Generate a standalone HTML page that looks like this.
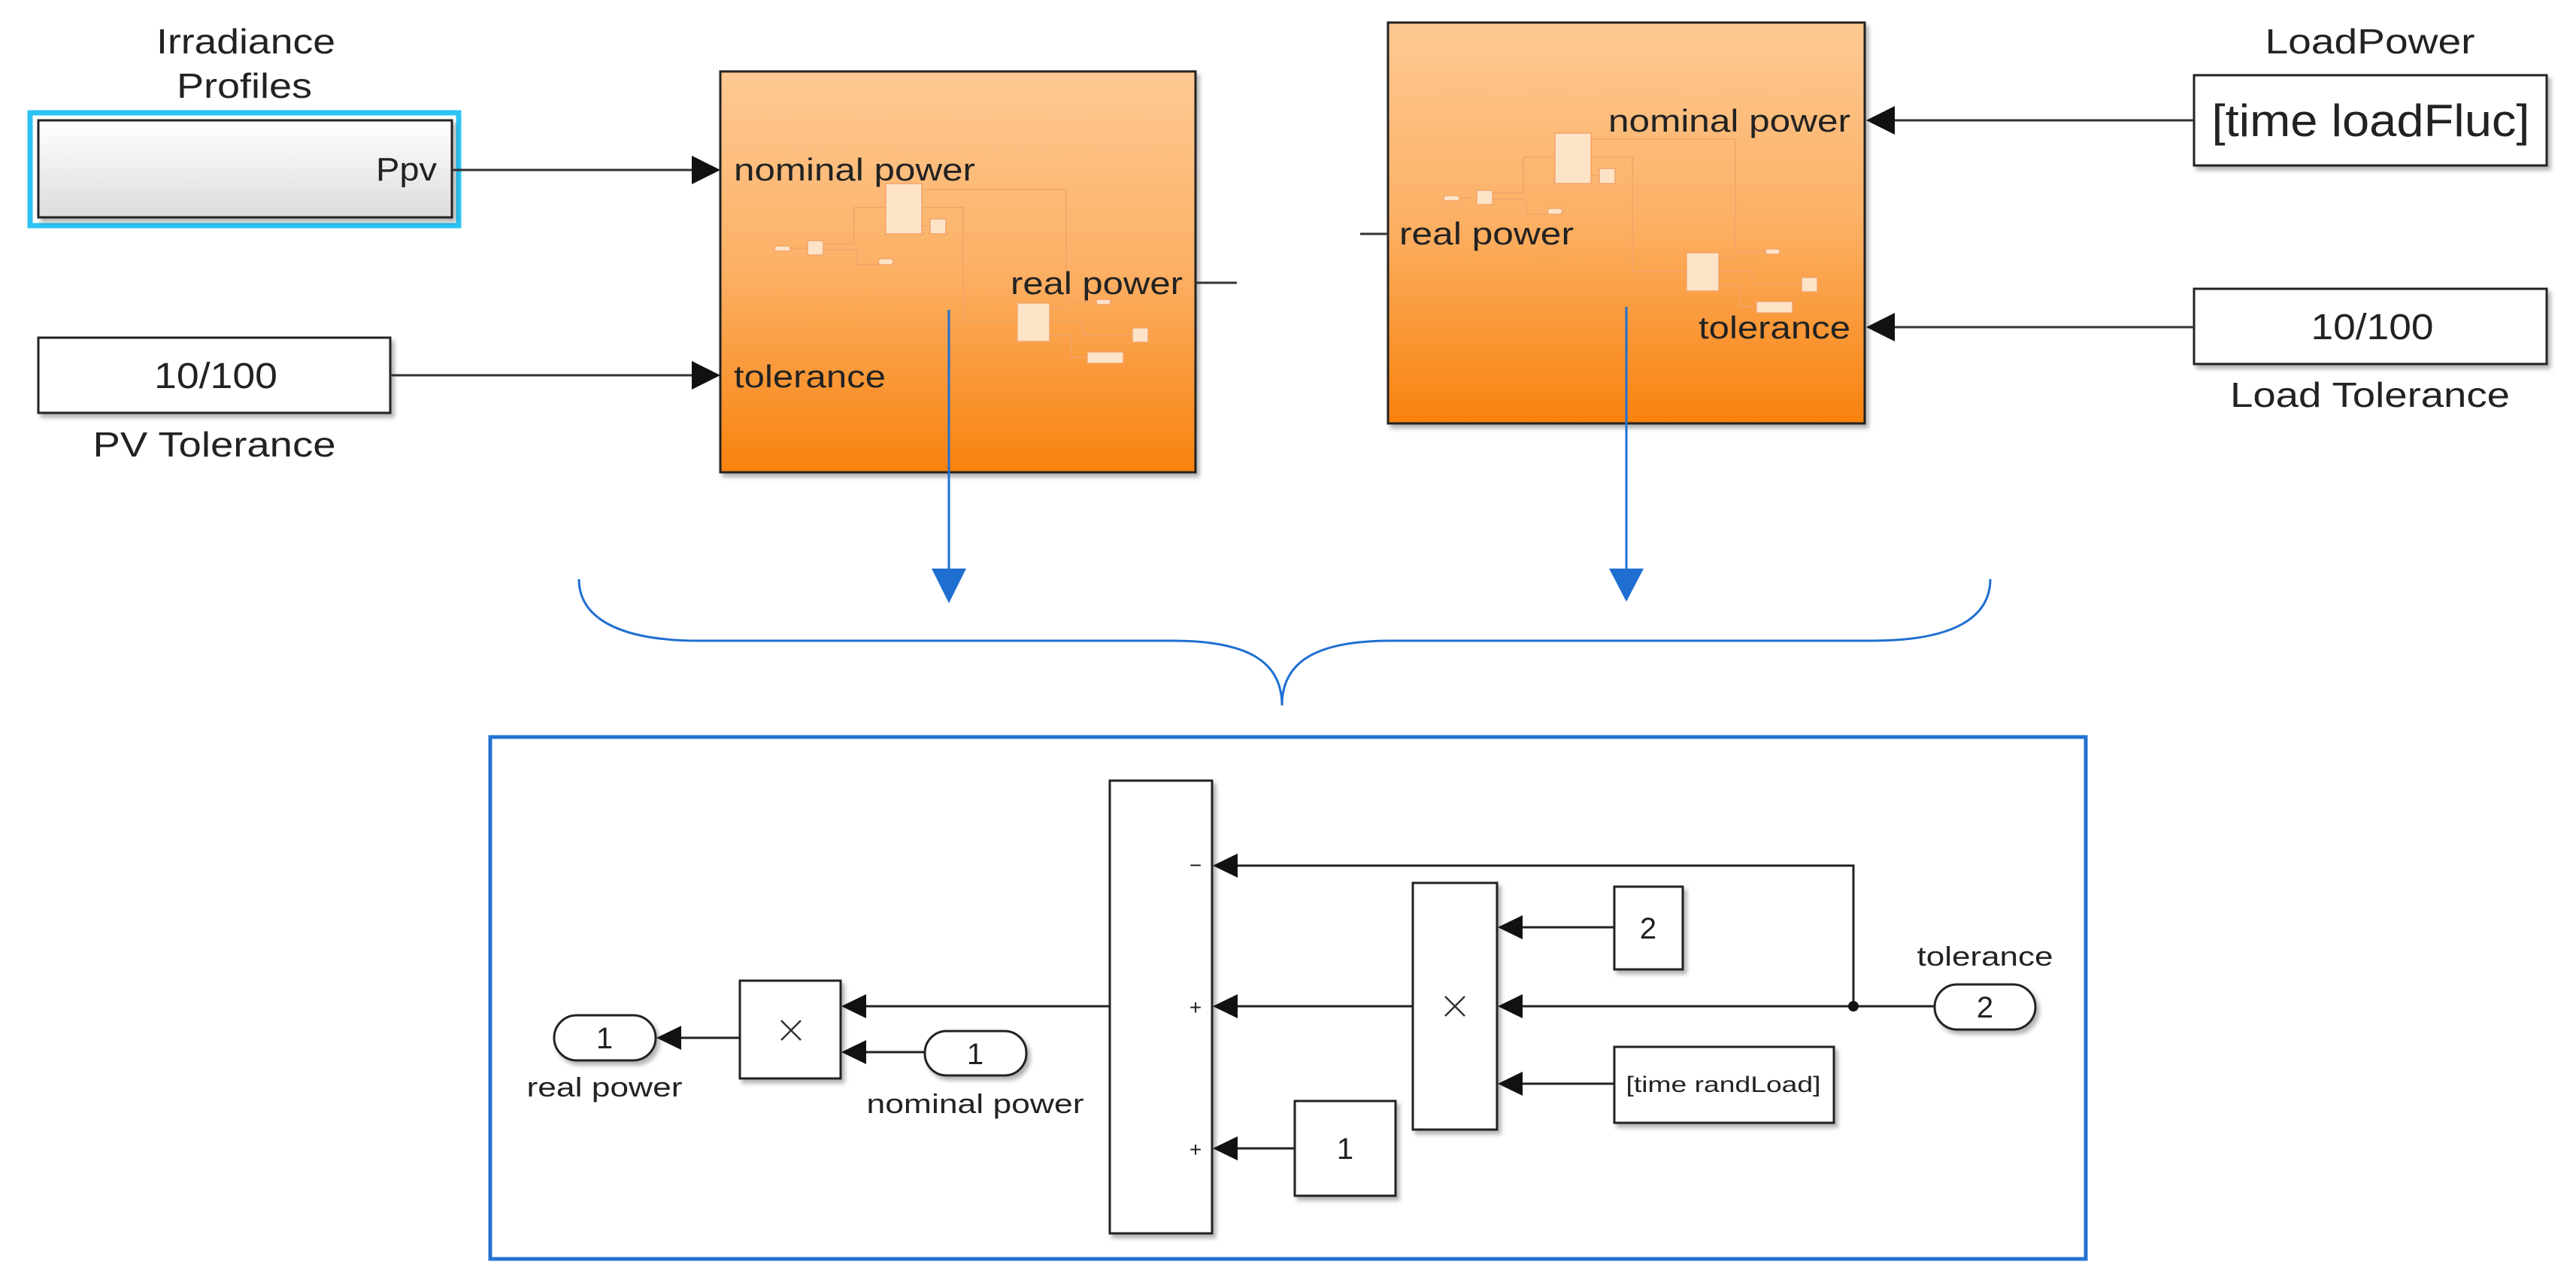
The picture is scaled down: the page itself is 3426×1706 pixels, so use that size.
<!DOCTYPE html>
<html><head><meta charset="utf-8"><style>
html,body{margin:0;padding:0;background:#fff;}
svg{display:block;}
text{font-family:"Liberation Sans",Arial,sans-serif;fill:#222;}
</style></head><body>
<svg width="3426" height="1706" viewBox="0 0 3426 1706" xmlns="http://www.w3.org/2000/svg">
<defs>
<linearGradient id="og" x1="0" y1="0" x2="0" y2="1">
<stop offset="0" stop-color="#fec993"/><stop offset="0.5" stop-color="#fcb064"/><stop offset="1" stop-color="#f8820e"/>
</linearGradient>
<linearGradient id="gg" x1="0" y1="0" x2="0" y2="1">
<stop offset="0" stop-color="#ffffff"/><stop offset="1" stop-color="#dcdcdc"/>
</linearGradient>
<filter id="sh" x="-10%" y="-10%" width="130%" height="130%"><feDropShadow dx="4" dy="5" stdDeviation="3" flood-color="#000" flood-opacity="0.3"/></filter>
<g id="deco" fill="#fde3c8" stroke="#f2a46a" stroke-width="1.5">
<path d="M1226 252 H1418 V401 M1226 276 H1281 V428 H1353 M1136 276 H1178 M1136 276 V324 H1095 M1095 332 H1140 V352 H1168 M1051 330 H1074 M1396 410 H1418 M1396 428 H1440 V445 H1506 M1396 446 H1425 V475 H1446 M1418 401 H1458 M1226 300 H1237" fill="none"/>
<rect x="1178" y="244" width="48" height="67"/>
<rect x="1237" y="291" width="21" height="20"/>
<rect x="1074" y="320" width="21" height="19"/>
<rect x="1030" y="327" width="21" height="7" rx="3"/>
<rect x="1168" y="344" width="20" height="8" rx="4"/>
<rect x="1353" y="403" width="43" height="51"/>
<rect x="1506" y="436" width="21" height="19"/>
<rect x="1446" y="468" width="48" height="15"/>
<rect x="1458" y="398" width="19" height="7" rx="3"/>
</g>
</defs>

<!-- Irradiance Profiles -->
<text x="327" y="71" font-size="46" text-anchor="middle" textLength="238" lengthAdjust="spacingAndGlyphs">Irradiance</text>
<text x="325" y="130" font-size="46" text-anchor="middle" textLength="180" lengthAdjust="spacingAndGlyphs">Profiles</text>
<rect x="40" y="150" width="570" height="150" fill="none" stroke="#2cc4f4" stroke-width="7"/>
<rect x="51" y="160" width="550" height="129" fill="url(#gg)" stroke="#222" stroke-width="3" filter="url(#sh)"/>
<text x="581" y="240" font-size="44" text-anchor="end" textLength="81" lengthAdjust="spacingAndGlyphs">Ppv</text>
<line x1="601" y1="226" x2="925" y2="226" stroke="#333" stroke-width="3"/>
<polygon points="920,207 958,226 920,245" fill="#111"/>

<!-- PV tolerance -->
<rect x="51" y="449" width="468" height="100" fill="#fff" stroke="#222" stroke-width="3" filter="url(#sh)"/>
<text x="287" y="516" font-size="48" text-anchor="middle" textLength="164" lengthAdjust="spacingAndGlyphs">10/100</text>
<text x="285" y="607" font-size="46" text-anchor="middle" textLength="323" lengthAdjust="spacingAndGlyphs">PV Tolerance</text>
<line x1="519" y1="499" x2="925" y2="499" stroke="#333" stroke-width="3"/>
<polygon points="920,480 958,499 920,518" fill="#111"/>

<!-- Orange box 1 -->
<rect x="958" y="95" width="632" height="533" fill="url(#og)" stroke="#222" stroke-width="3" filter="url(#sh)"/>
<use href="#deco"/>
<text x="976" y="240" font-size="42" textLength="321" lengthAdjust="spacingAndGlyphs">nominal power</text>
<text x="1344" y="391" font-size="42" textLength="229" lengthAdjust="spacingAndGlyphs">real power</text>
<text x="976" y="515" font-size="42" textLength="202" lengthAdjust="spacingAndGlyphs">tolerance</text>
<line x1="1590" y1="376" x2="1645" y2="376" stroke="#333" stroke-width="3"/>

<!-- Orange box 2 -->
<rect x="1846" y="30" width="634" height="533" fill="url(#og)" stroke="#222" stroke-width="3" filter="url(#sh)"/>
<use href="#deco" transform="translate(890,-67)"/>
<text x="2139" y="175" font-size="42" textLength="322" lengthAdjust="spacingAndGlyphs">nominal power</text>
<text x="1861" y="325" font-size="42" textLength="232" lengthAdjust="spacingAndGlyphs">real power</text>
<text x="2259" y="450" font-size="42" textLength="202" lengthAdjust="spacingAndGlyphs">tolerance</text>
<line x1="1809" y1="311" x2="1846" y2="311" stroke="#333" stroke-width="3"/>

<!-- LoadPower -->
<text x="3152" y="71" font-size="46" text-anchor="middle" textLength="279" lengthAdjust="spacingAndGlyphs">LoadPower</text>
<rect x="2918" y="100" width="469" height="120" fill="#fff" stroke="#222" stroke-width="3" filter="url(#sh)"/>
<text x="3153" y="181" font-size="60" text-anchor="middle" textLength="423" lengthAdjust="spacingAndGlyphs">[time loadFluc]</text>
<line x1="2515" y1="160" x2="2918" y2="160" stroke="#333" stroke-width="3"/>
<polygon points="2520,141 2482,160 2520,179" fill="#111"/>
<rect x="2918" y="384" width="469" height="100" fill="#fff" stroke="#222" stroke-width="3" filter="url(#sh)"/>
<text x="3155" y="451" font-size="48" text-anchor="middle" textLength="163" lengthAdjust="spacingAndGlyphs">10/100</text>
<text x="3152" y="541" font-size="46" text-anchor="middle" textLength="372" lengthAdjust="spacingAndGlyphs">Load Tolerance</text>
<line x1="2515" y1="435" x2="2918" y2="435" stroke="#333" stroke-width="3"/>
<polygon points="2520,416 2482,435 2520,454" fill="#111"/>

<!-- Blue arrows -->
<line x1="1262" y1="412" x2="1262" y2="760" stroke="#1f6fd1" stroke-width="3"/>
<polygon points="1239,756 1285,756 1262,802" fill="#1f6fd1"/>
<line x1="2163" y1="408" x2="2163" y2="760" stroke="#1f6fd1" stroke-width="3"/>
<polygon points="2140,756 2186,756 2163,800" fill="#1f6fd1"/>

<!-- Brace -->
<path d="M770 770 C770 820 820 852 930 852 L1560 852 C1660 852 1705 880 1705 938 C1705 880 1750 852 1850 852 L2490 852 C2600 852 2647 820 2647 770" fill="none" stroke="#1f6fd1" stroke-width="3"/>

<!-- Subsystem frame -->
<rect x="652" y="980" width="2122" height="694" fill="none" stroke="#2473d3" stroke-width="5"/>

<g stroke="#222" stroke-width="3">
<rect x="1476" y="1038" width="136" height="602" fill="#fff" filter="url(#sh)"/>
<rect x="984" y="1304" width="134" height="130" fill="#fff" filter="url(#sh)"/>
<rect x="1879" y="1174" width="112" height="328" fill="#fff" filter="url(#sh)"/>
<rect x="1722" y="1464" width="134" height="126" fill="#fff" filter="url(#sh)"/>
<rect x="2147" y="1179" width="91" height="110" fill="#fff" filter="url(#sh)"/>
<rect x="2147" y="1392" width="292" height="101" fill="#fff" filter="url(#sh)"/>
<rect x="737" y="1350" width="135" height="60" rx="30" fill="#fff" filter="url(#sh)"/>
<rect x="1230" y="1371" width="135" height="59" rx="29" fill="#fff" filter="url(#sh)"/>
<rect x="2573" y="1309" width="134" height="60" rx="30" fill="#fff" filter="url(#sh)"/>
<line x1="1476" y1="1338" x2="1140" y2="1338"/>
<line x1="1230" y1="1399" x2="1140" y2="1399"/>
<line x1="984" y1="1380" x2="895" y2="1380"/>
<polyline points="1635,1151 2465,1151 2465,1338" fill="none"/>
<line x1="2573" y1="1338" x2="2012" y2="1338"/>
<line x1="1879" y1="1338" x2="1635" y2="1338"/>
<line x1="1722" y1="1527" x2="1635" y2="1527"/>
<line x1="2147" y1="1233" x2="2012" y2="1233"/>
<line x1="2147" y1="1441" x2="2012" y2="1441"/>
</g>
<circle cx="2465" cy="1338" r="7" fill="#111"/>
<g fill="#111">
<polygon points="1646,1135 1613,1151 1646,1167"/>
<polygon points="1646,1322 1613,1338 1646,1354"/>
<polygon points="1646,1511 1613,1527 1646,1543"/>
<polygon points="1152,1322 1119,1338 1152,1354"/>
<polygon points="1152,1383 1119,1399 1152,1415"/>
<polygon points="906,1364 873,1380 906,1396"/>
<polygon points="2025,1217 1992,1233 2025,1249"/>
<polygon points="2025,1322 1992,1338 2025,1354"/>
<polygon points="2025,1425 1992,1441 2025,1457"/>
</g>
<g stroke="#333" stroke-width="2.5">
<line x1="1039" y1="1357" x2="1065" y2="1383"/><line x1="1065" y1="1357" x2="1039" y2="1383"/>
<line x1="1922" y1="1325" x2="1948" y2="1351"/><line x1="1948" y1="1325" x2="1922" y2="1351"/>
</g>
<text x="1590" y="1160" font-size="28" text-anchor="middle">−</text>
<text x="1590" y="1349" font-size="28" text-anchor="middle">+</text>
<text x="1590" y="1538" font-size="28" text-anchor="middle">+</text>
<text x="1789" y="1541" font-size="40" text-anchor="middle">1</text>
<text x="2192" y="1248" font-size="40" text-anchor="middle">2</text>
<text x="2292" y="1452" font-size="30" text-anchor="middle" textLength="259" lengthAdjust="spacingAndGlyphs">[time randLoad]</text>
<text x="804" y="1394" font-size="40" text-anchor="middle">1</text>
<text x="1297" y="1415" font-size="40" text-anchor="middle">1</text>
<text x="2640" y="1353" font-size="40" text-anchor="middle">2</text>
<text x="804" y="1458" font-size="36" text-anchor="middle" textLength="207" lengthAdjust="spacingAndGlyphs">real power</text>
<text x="1297" y="1480" font-size="36" text-anchor="middle" textLength="289" lengthAdjust="spacingAndGlyphs">nominal power</text>
<text x="2640" y="1284" font-size="36" text-anchor="middle" textLength="181" lengthAdjust="spacingAndGlyphs">tolerance</text>
</svg>
</body></html>
